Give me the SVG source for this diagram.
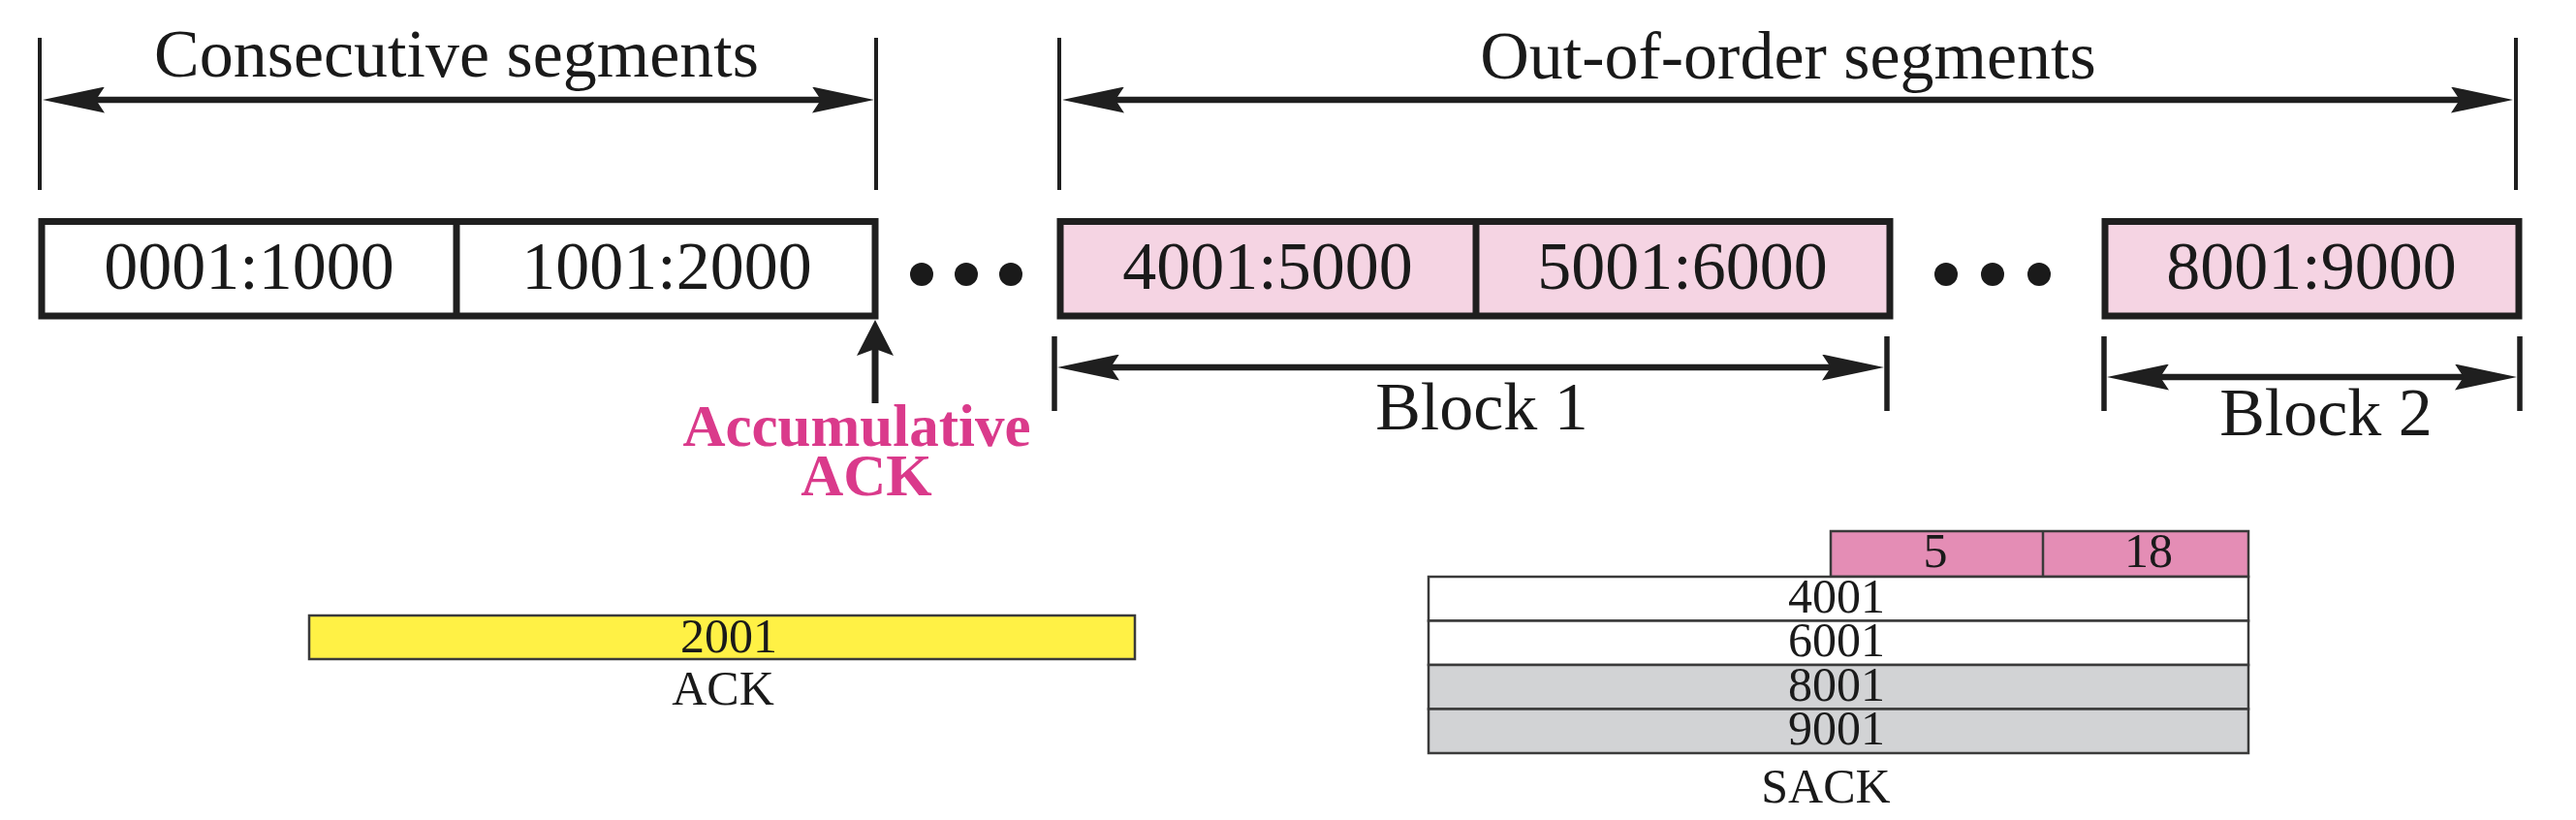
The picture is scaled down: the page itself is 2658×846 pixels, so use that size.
<svg xmlns="http://www.w3.org/2000/svg" width="2658" height="846" viewBox="0 0 2658 846">
<style>
  text { font-family: "Liberation Serif", "Times New Roman", serif; fill: #1a1a1a; text-anchor: middle; }
  .big { font-size: 70px; }
  .small { font-size: 50px; }
  .acc { font-size: 61px; font-weight: bold; fill: #DA3A8B; }
  .seg { stroke: #1f1f1f; stroke-width: 7; }
  .white { fill: #ffffff; }
  .pink { fill: #F5D4E3; }
  .tick { stroke: #1f1f1f; stroke-width: 4; fill: none; }
  .btick { stroke: #1f1f1f; stroke-width: 5.5; fill: none; }
  .dim { stroke: #1f1f1f; stroke-width: 6.5; fill: none; marker-start: url(#ah); marker-end: url(#ah); }
  .up { stroke: #1f1f1f; stroke-width: 7; fill: none; marker-end: url(#uh); }
  .dot { fill: #1a1a1a; }
  .thin { stroke: #3a3a3a; stroke-width: 2.5; }
</style>
<defs>
  <marker id="ah" markerUnits="userSpaceOnUse" viewBox="0 0 64 27" markerWidth="64" markerHeight="27" refX="12" refY="13.5" orient="auto-start-reverse">
    <path d="M64,13.5 L0,0 L9,13.5 L0,27 Z" fill="#1f1f1f"/>
  </marker>
  <marker id="uh" markerUnits="userSpaceOnUse" viewBox="0 0 37 38" markerWidth="37" markerHeight="38" refX="10" refY="19" orient="auto">
    <path d="M37,19 L0,0 L7,19 L0,38 Z" fill="#1f1f1f"/>
  </marker>
</defs>

<g id="connectors">
  <!-- Consecutive segments dimension -->
  <line class="tick" x1="41" y1="39" x2="41" y2="196"/>
  <line class="tick" x1="904" y1="39" x2="904" y2="196"/>
  <line class="dim" x1="96" y1="103" x2="850" y2="103"/>
  <!-- Out-of-order segments dimension -->
  <line class="tick" x1="1093" y1="39" x2="1093" y2="196"/>
  <line class="tick" x1="2596" y1="39" x2="2596" y2="196"/>
  <line class="dim" x1="1148" y1="103" x2="2541" y2="103"/>
  <!-- Block 1 dimension -->
  <line class="btick" x1="1088" y1="347" x2="1088" y2="424"/>
  <line class="btick" x1="1947" y1="347" x2="1947" y2="424"/>
  <line class="dim" x1="1143" y1="379" x2="1892" y2="379"/>
  <!-- Block 2 dimension -->
  <line class="btick" x1="2171" y1="347" x2="2171" y2="424"/>
  <line class="btick" x1="2600" y1="347" x2="2600" y2="424"/>
  <line class="dim" x1="2226" y1="389" x2="2545" y2="389"/>
  <!-- Accumulative ACK pointer -->
  <line class="up" x1="903" y1="416" x2="903" y2="357"/>
</g>

<g id="labels-top">
  <text class="big" x="471" y="79">Consecutive segments</text>
  <text class="big" x="1845" y="81">Out-of-order segments</text>
</g>

<g id="consecutive">
  <rect class="seg white" x="43" y="228.5" width="860" height="97.5"/>
  <line class="seg" x1="471" y1="228.5" x2="471" y2="326"/>
  <text class="big" x="257" y="298">0001:1000</text>
  <text class="big" x="688" y="298">1001:2000</text>
</g>

<g id="dots1">
  <circle class="dot" cx="951" cy="283" r="12"/>
  <circle class="dot" cx="997" cy="283" r="12"/>
  <circle class="dot" cx="1043" cy="283" r="12"/>
</g>

<g id="block1">
  <rect class="seg pink" x="1094" y="228.5" width="856" height="97.5"/>
  <line class="seg" x1="1523" y1="228.5" x2="1523" y2="326"/>
  <text class="big" x="1308" y="298">4001:5000</text>
  <text class="big" x="1736" y="298">5001:6000</text>
</g>

<g id="dots2">
  <circle class="dot" cx="2008" cy="283" r="12"/>
  <circle class="dot" cx="2056" cy="283" r="12"/>
  <circle class="dot" cx="2104" cy="283" r="12"/>
</g>

<g id="block2">
  <rect class="seg pink" x="2172" y="228.5" width="427" height="97.5"/>
  <text class="big" x="2385" y="298">8001:9000</text>
</g>

<g id="block-labels">
  <text class="big" x="1529" y="443">Block 1</text>
  <text class="big" x="2400" y="449">Block 2</text>
</g>

<g id="accumulative-ack">
  <text class="acc" x="884" y="460">Accumulative</text>
  <text class="acc" x="894" y="511">ACK</text>
</g>

<g id="ack">
  <rect class="thin" x="319" y="635" width="852" height="45" fill="#FFF145"/>
  <text class="small" x="752" y="673">2001</text>
  <text class="small" x="746" y="727">ACK</text>
</g>

<g id="sack">
  <rect class="thin" x="1889" y="548" width="431" height="47" fill="#E48DB5"/>
  <line class="thin" x1="2108" y1="548" x2="2108" y2="595"/>
  <text class="small" x="1997" y="585">5</text>
  <text class="small" x="2217" y="585">18</text>
  <rect class="thin" x="1474" y="595" width="846" height="45.5" fill="#ffffff"/>
  <rect class="thin" x="1474" y="640.5" width="846" height="45.5" fill="#ffffff"/>
  <rect class="thin" x="1474" y="686" width="846" height="45.5" fill="#D2D3D5"/>
  <rect class="thin" x="1474" y="731.5" width="846" height="45.5" fill="#D2D3D5"/>
  <text class="small" x="1895" y="632">4001</text>
  <text class="small" x="1895" y="677">6001</text>
  <text class="small" x="1895" y="723">8001</text>
  <text class="small" x="1895" y="768">9001</text>
  <text class="small" x="1884" y="828">SACK</text>
</g>
</svg>
